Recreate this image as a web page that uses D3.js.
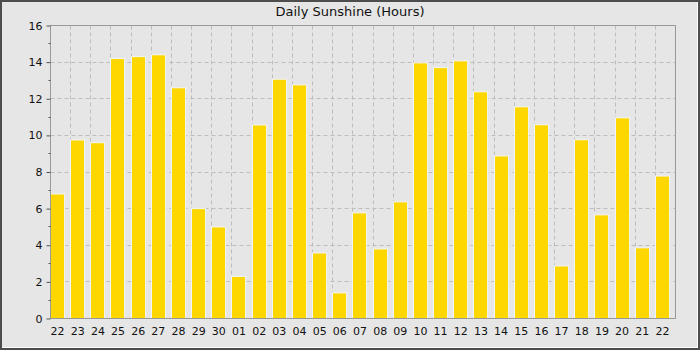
<!DOCTYPE html>
<html>
<head>
<meta charset="utf-8">
<script src="https://cdn.jsdelivr.net/npm/d3@7"></script>
<style>
  body { margin: 0; background: #fff; }
  svg { display: block; font-family: "DejaVu Sans", sans-serif; }
</style>
</head>
<body>
<svg width="700" height="350"></svg>
<script>
// day labels (two months span, so "22" shows twice)
let days = ["22","23","24","25","26","27","28","29","30","01","02","03","04","05","06",
            "07","08","09","10","11","12","13","14","15","16","17","18","19","20","21","22"];
// sunshine hours per day
let hours = [6.8, 9.75, 9.6, 14.2, 14.3, 14.4, 12.6, 6.0, 5.0, 2.3, 10.57, 13.07, 12.76, 3.58, 1.4,
             5.77, 3.8, 6.37, 13.96, 13.7, 14.07, 12.38, 8.88, 11.56, 10.58, 2.87, 9.76, 5.66, 10.96, 3.86, 7.78];
let yTicks = [0, 2, 4, 6, 8, 10, 12, 14, 16];
let yMinor = [1, 3, 5, 7, 9, 11, 13, 15];

let margin = {top: 25, right: 25, bottom: 32, left: 50};
let width = 700 - margin.left - margin.right;
let height = 350 - margin.top - margin.bottom - 0;
height = 293;

let svg = d3.select("svg");

// frame: dark border with light bevel on right/bottom
svg.append("rect").attr("width", 700).attr("height", 350).attr("fill", "#4d4d4d");
svg.append("rect").attr("x", 2).attr("y", 2).attr("width", 696).attr("height", 346).attr("fill", "#ffffff");
svg.append("rect").attr("x", 2).attr("y", 2).attr("width", 695).attr("height", 345).attr("fill", "#e6e6e6");

let idx = days.map((d, i) => i);

let xScale = d3.scaleBand()
  .domain(idx)
  .range([0, width])
  .padding(0);

let yScale = d3.scaleLinear()
  .domain([0, 16])
  .range([height, 0]);

let parent = svg.append("g")
  .attr("transform", `translate(${margin.left + 0.5}, ${margin.top + 0.5})`);

// grid lines
parent.selectAll(".hgrid")
  .data(yTicks.filter(d => d > 0 && d < 16))
  .enter().append("line")
  .attr("x1", 0).attr("x2", width)
  .attr("y1", d => Math.round(yScale(d))).attr("y2", d => Math.round(yScale(d)))
  .attr("stroke", "#bdbdbd").attr("stroke-dasharray", "4,3");

parent.selectAll(".vgrid")
  .data(idx.slice(1))
  .enter().append("line")
  .attr("x1", d => Math.round(xScale(d))).attr("x2", d => Math.round(xScale(d)))
  .attr("y1", 0).attr("y2", height)
  .attr("stroke", "#bdbdbd").attr("stroke-dasharray", "4,3");

// bars
let barW = xScale.bandwidth() * 0.7;
parent.selectAll(".bar")
  .data(hours)
  .enter().append("rect")
  .attr("class", "bar")
  .attr("x", (d, i) => Math.round(xScale(i)))
  .attr("width", barW)
  .attr("y", d => yScale(d))
  .attr("height", d => height - yScale(d))
  .attr("fill", "#ffd700")
  .attr("stroke", "#f0f6fb")
  .attr("stroke-width", 1);

// plot box
parent.append("rect")
  .attr("width", width).attr("height", height)
  .attr("fill", "none").attr("stroke", "#999999");

// y axis
let yAxis = d3.axisLeft(yScale).tickValues(yTicks).tickSize(4).tickPadding(4);
let gy = parent.append("g").call(yAxis);
gy.select(".domain").remove();
gy.selectAll(".tick line").attr("stroke", "#555");
gy.selectAll(".tick text").attr("font-size", 11).attr("fill", "#111").attr("font-family", "DejaVu Sans");

parent.selectAll(".minor")
  .data(yMinor)
  .enter().append("line")
  .attr("x1", -2).attr("x2", 0)
  .attr("y1", d => Math.round(yScale(d))).attr("y2", d => Math.round(yScale(d)))
  .attr("stroke", "#555");

// x axis
let xAxis = d3.axisBottom(xScale)
  .tickFormat(i => days[i])
  .tickSize(0).tickPadding(9);
let gx = parent.append("g")
  .attr("transform", `translate(${barW / 2 - xScale.bandwidth() / 2}, ${height})`)
  .call(xAxis);
gx.select(".domain").remove();
gx.selectAll(".tick text").attr("font-size", 11).attr("fill", "#111").attr("font-family", "DejaVu Sans");

// title
svg.append("text")
  .attr("x", 350).attr("y", 16)
  .attr("text-anchor", "middle")
  .attr("font-size", 13)
  .attr("fill", "#111")
  .text("Daily Sunshine (Hours)");
</script>
</body>
</html>
